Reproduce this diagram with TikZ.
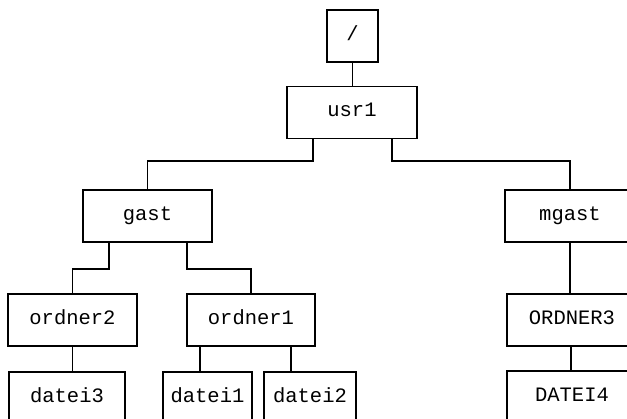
\documentclass[tikz,border=0pt]{standalone}
\usepackage{fontspec}
\setmonofont{Liberation Mono}
\begin{document}
\begin{tikzpicture}[x=1pt,y=-1pt,
  fbox/.style={draw, line width=1.8pt, inner sep=0pt, font=\ttfamily\fontsize{20.5}{24}\selectfont,
     text height=0.9em, text depth=0pt, minimum height=52pt, anchor=center},
  conn/.style={line width=1.9pt}]
\useasboundingbox (0,0) rectangle (627,419);
\fill[white] (0,0) rectangle (627,419);
\clip (0,0) rectangle (627,419);
\node[fbox, minimum width=51pt] (root) at (352.5,36) {/};
\node[fbox, minimum width=130pt] (usr1) at (352,112.5) {usr1};
\node[fbox, minimum width=129pt] (gast) at (147.5,216) {gast};
\node[fbox, minimum width=130pt] (mgast) at (570,216) {mgast};
\node[fbox, minimum width=129pt] (ordner2) at (72.5,320) {ordner2};
\node[fbox, minimum width=128pt] (ordner1) at (251,320) {ordner1};
\node[fbox, minimum width=130pt] (ordner3) at (572,320) {ORDNER3};
\node[fbox, minimum width=116pt] (datei3) at (67,398) {datei3};
\node[fbox, minimum width=89pt] (datei1) at (207.5,398) {datei1};
\node[fbox, minimum width=92pt] (datei2) at (310,398) {datei2};
\node[fbox, minimum width=130pt] (datei4) at (572,397) {DATEI4};
\draw[conn] (root.south) -- (root.south |- usr1.north);
\draw[conn] ([xshift=27pt]usr1.south west) -- ++(0,22) -| (gast.north);
\draw[conn] ([xshift=-26pt]usr1.south east) -- ++(0,22) -| (mgast.north);
\draw[conn] ([xshift=27pt]gast.south west) -- ++(0,26) -| (ordner2.north);
\draw[conn] ([xshift=-26pt]gast.south east) -- ++(0,26) -| (ordner1.north);
\draw[conn] (ordner2.south) -- (ordner2.south |- datei3.north);
\draw[conn] ([xshift=14pt]ordner1.south west) coordinate (a1) -- (a1 |- datei1.north);
\draw[conn] ([xshift=-25pt]ordner1.south east) coordinate (a2) -- (a2 |- datei2.north);
\draw[conn] (mgast.south) -- (mgast.south |- ordner3.north);
\draw[conn] ([xshift=-1pt]ordner3.south) coordinate (a3) -- (a3 |- datei4.north);
\end{tikzpicture}
\end{document}
